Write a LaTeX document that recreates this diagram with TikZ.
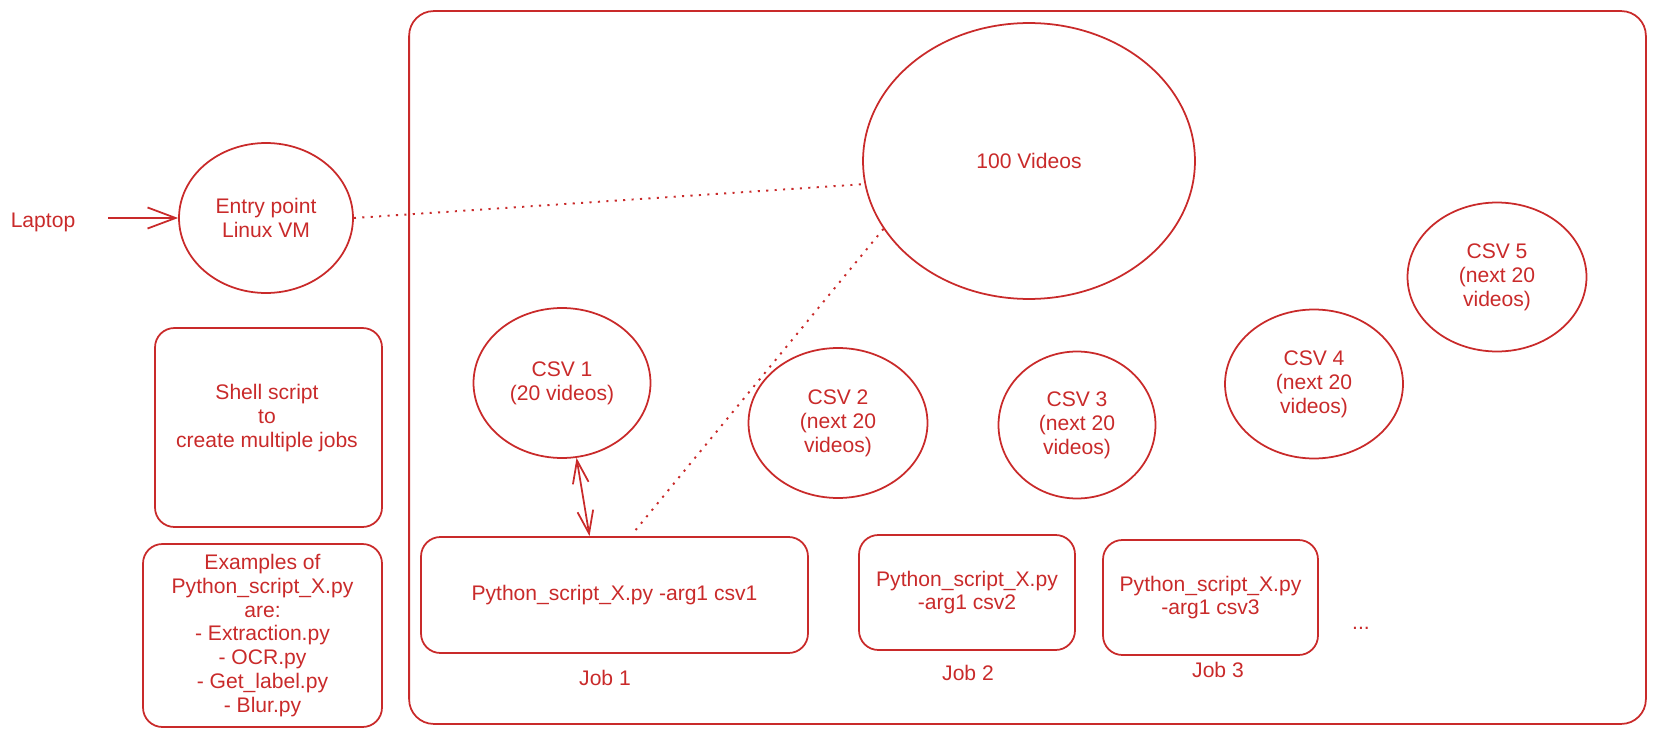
\documentclass[tikz,border=0pt]{standalone}
\usepackage{fontspec}
\setmainfont{Liberation Sans}
\usetikzlibrary{shapes.geometric,arrows.meta,calc}
\definecolor{exred}{HTML}{C92A2A}
\begin{document}
\begin{tikzpicture}[x=0.02cm,y=-0.02cm,
  every node/.style={text=exred,font=\fontsize{12}{13.6}\selectfont},
  ell/.style={draw=exred,line width=1pt,ellipse,inner sep=0pt,align=center},
  rbox/.style={draw=exred,line width=1pt,rounded corners=11pt,inner sep=0pt,align=center},
  lbl/.style={inner sep=1pt,align=center},
  dotline/.style={draw=exred,line width=1.1pt,dash pattern=on 1.2pt off 3.6pt},
  conn/.style={draw=exred,line width=1pt}]
\useasboundingbox (0,0) rectangle (1654,737);
% container
\node[rbox,rounded corners=14pt,minimum width=24.74cm,minimum height=14.26cm] (container) at (1027.5,367.5) {};
% left side
\node[lbl] (laptop) at (43,222) {Laptop};
\node[ell,minimum width=3.48cm,minimum height=3.0cm] (entry) at (266,218) {Entry point\\Linux VM};
\node[rbox,minimum width=4.54cm,minimum height=3.98cm] (shell) at (268.5,427.5) {};
\node[lbl] (shelltext) at (267,418) {Shell script\\to\\create multiple jobs};
\node[rbox,minimum width=4.78cm,minimum height=3.66cm] (examples) at (262.5,635.5) {Examples of\\Python\_script\_X.py\\are:\\- Extraction.py\\- OCR.py\\- Get\_label.py\\- Blur.py};
% circles
\node[ell,minimum width=6.64cm,minimum height=5.52cm] (videos) at (1029,161) {100 Videos};
\node[ell,minimum width=3.54cm,minimum height=3.0cm] (csv1) at (562,383) {CSV 1\\(20 videos)};
\node[ell,minimum width=3.58cm,minimum height=3.0cm] (csv2) at (838,423) {CSV 2\\(next 20\\videos)};
\node[ell,minimum width=3.14cm,minimum height=2.94cm] (csv3) at (1077,425) {CSV 3\\(next 20\\videos)};
\node[ell,minimum width=3.56cm,minimum height=2.98cm] (csv4) at (1314,384) {CSV 4\\(next 20\\videos)};
\node[ell,minimum width=3.58cm,minimum height=2.98cm] (csv5) at (1497,277) {CSV 5\\(next 20\\videos)};
% jobs
\node[rbox,minimum width=7.74cm,minimum height=2.32cm] (job1) at (614.5,595) {Python\_script\_X.py -arg1 csv1};
\node[rbox,minimum width=4.32cm,minimum height=2.3cm] (job2) at (967,592.5) {Python\_script\_X.py\\-arg1 csv2};
\node[rbox,minimum width=4.3cm,minimum height=2.3cm] (job3) at (1210.5,597.5) {Python\_script\_X.py\\-arg1 csv3};
\node[lbl] (job1l) at (605,678) {Job 1};
\node[lbl] (job2l) at (968,673) {Job 2};
\node[lbl] (job3l) at (1218,670) {Job 3};
\node[lbl] (dots) at (1361,628) {...};
% connectors
\coordinate (arrstart) at (108,218);
\draw[conn,-{Straight Barb[length=16pt,width=12pt]}] (arrstart) -- (entry.west);
\draw[dotline] (entry.east) -- (videos.188);
\coordinate (d2end) at (634,532);
\draw[dotline] (videos.205) -- (d2end);
\draw[conn,{Straight Barb[length=13pt,width=9pt]}-{Straight Barb[length=13pt,width=9pt]}] (csv1.-79) -- (job1.113);
\end{tikzpicture}
\end{document}
